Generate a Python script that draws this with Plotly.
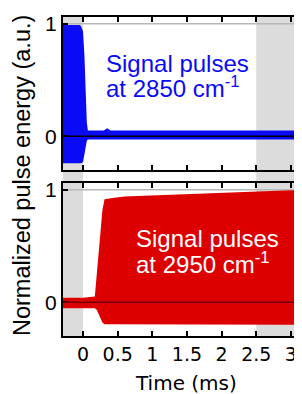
import plotly.graph_objects as go

# ---- data ----
# Top panel: envelope of the signal pulses at 2850 cm-1 (time in ms)
blue_t     = [-0.289, -0.25, -0.15, -0.05, -0.03, 0.0, 0.02, 0.04, 0.055, 0.07, 0.3, 0.35, 0.4, 0.8, 1.2, 1.6, 2.0, 2.4, 2.8, 3.16]
blue_upper = [0.99, 0.99, 0.99, 0.99, 0.98, 0.93, 0.72, 0.38, 0.12, 0.05, 0.05, 0.07, 0.05, 0.05, 0.05, 0.05, 0.05, 0.05, 0.05, 0.05]
blue_lower = [-0.24, -0.24, -0.24, -0.24, -0.24, -0.23, -0.19, -0.09, -0.04, -0.03, -0.03, -0.03, -0.03, -0.03, -0.03, -0.03, -0.03, -0.03, -0.03, -0.03]

# Bottom panel: envelope of the signal pulses at 2950 cm-1
red_t     = [-0.289, 0.0, 0.17, 0.2, 0.24, 0.28, 0.31, 0.35, 0.45, 0.6, 0.8, 1.0, 1.2, 1.4, 1.6, 1.8, 2.0, 2.2, 2.4, 2.6, 2.8, 3.0, 3.16]
red_upper = [0.04, 0.04, 0.05, 0.25, 0.55, 0.82, 0.915, 0.92, 0.93, 0.94, 0.945, 0.95, 0.955, 0.96, 0.965, 0.97, 0.972, 0.975, 0.98, 0.985, 0.99, 0.995, 0.995]
red_lower = [-0.054, -0.054, -0.054, -0.07, -0.13, -0.18, -0.195, -0.2, -0.2, -0.2, -0.2, -0.2, -0.2, -0.2, -0.2, -0.2, -0.2, -0.2, -0.2, -0.2, -0.2, -0.2, -0.2]

x_tickvals = [0, 0.5, 1, 1.5, 2, 2.5, 3]
x_ticktext = ["0", "0.5", "1", "1.5", "2", "2.5", "3"]
y_tickvals = [0, 1]
y_ticktext = ["0", "1"]
gray_bands = [(-0.289, 0.0), (2.5, 3.16)]

XR = [-0.289, 3.16]
YR = [-0.30, 1.06]

fig = go.Figure()
fig.add_trace(go.Scatter(x=blue_t + blue_t[::-1], y=blue_upper + blue_lower[::-1],
                         fill="toself", fillcolor="#0a0af5", line=dict(color="#0a0af5", width=0),
                         mode="lines", xaxis="x2", yaxis="y2", hoverinfo="skip", showlegend=False))
fig.add_trace(go.Scatter(x=red_t + red_t[::-1], y=red_upper + red_lower[::-1],
                         fill="toself", fillcolor="#dd0000", line=dict(color="#dd0000", width=0),
                         mode="lines", xaxis="x", yaxis="y", hoverinfo="skip", showlegend=False))

shapes = []
for a, b in gray_bands:
    shapes.append(dict(type="rect", xref="x", yref="paper", x0=a, x1=b, y0=0, y1=1,
                       fillcolor="#dcdcdc", line=dict(width=0), layer="below"))
# reference lines
shapes.append(dict(type="line", xref="x2", yref="y2", x0=XR[0], x1=XR[1], y0=1, y1=1,
                   line=dict(color="#b8b8b8", width=1.5), layer="below"))
shapes.append(dict(type="line", xref="x", yref="y", x0=XR[0], x1=XR[1], y0=1, y1=1,
                   line=dict(color="#b8b8b8", width=1.5), layer="below"))
shapes.append(dict(type="line", xref="x2", yref="y2", x0=XR[0], x1=XR[1], y0=0, y1=0,
                   line=dict(color="#000000", width=1.5), layer="above"))
shapes.append(dict(type="line", xref="x", yref="y", x0=XR[0], x1=XR[1], y0=0, y1=0,
                   line=dict(color="#700000", width=1.5), layer="above"))

axis_common = dict(showline=True, linecolor="black", linewidth=2, ticks="inside",
                   ticklen=5, tickwidth=1.5, tickcolor="black", showgrid=False, zeroline=False,
                   automargin=False)

H = 319.0
fig.update_layout(
    width=294, height=386,
    margin=dict(l=55, r=0, t=9, b=58, autoexpand=False),
    paper_bgcolor="white", plot_bgcolor="rgba(0,0,0,0)",
    shapes=shapes,
    xaxis=dict(range=XR, domain=[0, 1], anchor="y", mirror="allticks",
               tickvals=x_tickvals, ticktext=x_ticktext,
               tickfont=dict(family="DejaVu Sans", size=19, color="black"),
               **axis_common),
    xaxis2=dict(range=XR, domain=[0, 1], anchor="y2", mirror="allticks", matches="x",
                tickvals=x_tickvals, showticklabels=False, **axis_common),
    yaxis=dict(range=YR, domain=[0, 153 / H], anchor="x", mirror=False,
               tickvals=y_tickvals, ticktext=y_ticktext,
               tickfont=dict(family="Liberation Sans", size=21, color="black"), **axis_common),
    yaxis2=dict(range=YR, domain=[166 / H, 1], anchor="x2", mirror=False,
                tickvals=y_tickvals, ticktext=y_ticktext,
                tickfont=dict(family="Liberation Sans", size=21, color="black"), **axis_common),
    annotations=[
        dict(text="Signal pulses", xref="x2", yref="y2", x=0.30, y=0.651, xanchor="left", yanchor="middle",
             showarrow=False, font=dict(family="Liberation Sans", size=24, color="#0a0af5")),
        dict(text="at 2850 cm<sup>-1</sup>", xref="x2", yref="y2", x=0.30, y=0.44, xanchor="left", yanchor="middle",
             showarrow=False, font=dict(family="Liberation Sans", size=24, color="#0a0af5")),
        dict(text="Signal pulses", xref="x", yref="y", x=0.735, y=0.571, xanchor="left", yanchor="middle",
             showarrow=False, font=dict(family="Liberation Sans", size=24, color="white")),
        dict(text="at 2950 cm<sup>-1</sup>", xref="x", yref="y", x=0.735, y=0.35, xanchor="left", yanchor="middle",
             showarrow=False, font=dict(family="Liberation Sans", size=24, color="white")),
        dict(text="Normalized pulse energy (a.u.)", xref="paper", yref="paper", x=-0.1715, y=0.5016,
             xanchor="center", yanchor="middle", textangle=-90, showarrow=False,
             font=dict(family="Liberation Sans", size=23.5, color="black")),
        dict(text="Time (ms)", xref="paper", yref="paper", x=0.5167, y=-0.147,
             xanchor="center", yanchor="middle", showarrow=False,
             font=dict(family="DejaVu Sans", size=20, color="black")),
    ],
)

fig.write_html("out.html")
